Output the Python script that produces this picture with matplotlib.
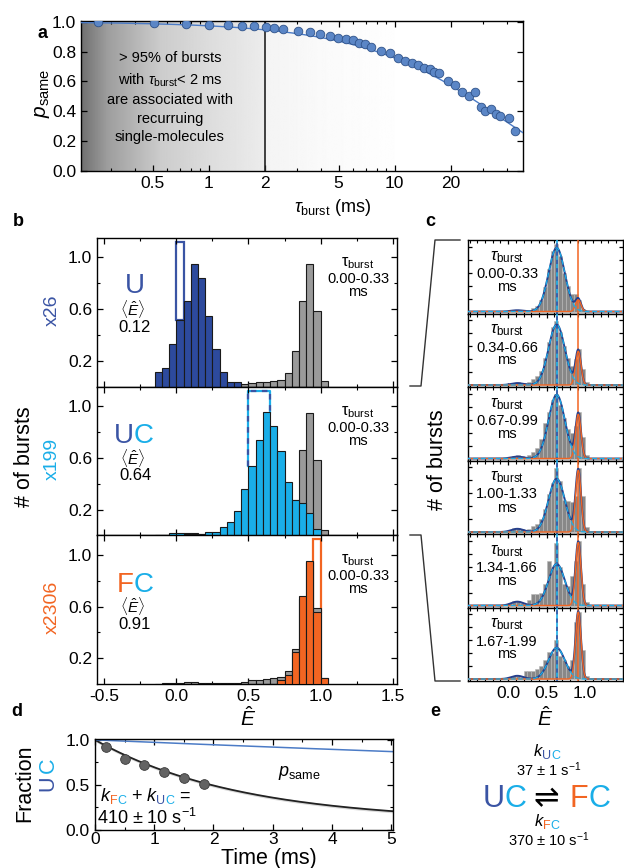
import numpy as np
import matplotlib.pyplot as plt
from matplotlib.ticker import MultipleLocator, FixedLocator, NullFormatter, LogLocator
from matplotlib.lines import Line2D
from matplotlib.patches import Rectangle

plt.rcParams['font.family'] = ['Liberation Sans', 'DejaVu Sans']
plt.rcParams['mathtext.fontset'] = 'custom'
plt.rcParams['mathtext.rm'] = 'Liberation Sans'
plt.rcParams['mathtext.it'] = 'Liberation Sans:italic'
plt.rcParams['mathtext.bf'] = 'Liberation Sans:bold'
plt.rcParams['axes.linewidth'] = 1.0

W, H = 624, 868

# colours
DBLUE = '#3a54a4'
BAR_BLUE = '#2d4a9d'
CYAN = '#1aaee8'
ORANGE = '#f26522'
GREY = '#9a9a9a'
PT_BLUE = '#5b86c6'
LN_BLUE = '#4b7bc6'

# ---------------------------------
# panel a : p_same vs burst duration
TAU_MS = [0.254, 0.506, 0.759, 1.0, 1.265, 1.52, 1.76, 2.03, 2.26, 2.5, 3.03, 3.49,
          3.98, 4.49, 4.96, 5.48, 5.98, 6.46, 6.96, 7.43, 8.45, 9.4, 10.4, 11.4,
          12.4, 13.3, 14.3, 15.4, 16.3, 17.3, 19.4, 21.1, 23.1, 25.1, 27.0, 29.0,
          30.8, 32.8, 34.9, 37.0, 41.0, 44.5]
P_SAME = [0.996, 0.994, 0.987, 0.98, 0.976, 0.973, 0.969, 0.965, 0.96, 0.949, 0.935, 0.928,
          0.915, 0.904, 0.893, 0.884, 0.875, 0.859, 0.848, 0.832, 0.805, 0.792, 0.758, 0.739,
          0.725, 0.712, 0.69, 0.683, 0.665, 0.656, 0.602, 0.579, 0.53, 0.5, 0.526, 0.432,
          0.405, 0.418, 0.385, 0.366, 0.352, 0.267]
P_SAME_TAU0 = 36.0  # ms, single exponential fit

# ---------------------------------
# panel b : E histograms (bin left edges, width 0.05)
E_LEFT = np.round(np.arange(-0.15, 1.001, 0.05), 2)
BIN_W = 0.05
HIST_ALL = [0.0, 0.005, 0.01, 0.012, 0.015, 0.015, 0.012, 0.01, 0.01, 0.01, 0.01, 0.012,
            0.02, 0.03, 0.035, 0.04, 0.045, 0.055, 0.105, 0.275, 0.66, 0.947, 0.585, 0.045]
HIST_U = [0.11, 0.146, 0.33, 0.515, 0.66, 0.947, 0.84, 0.55, 0.29, 0.115, 0.037, 0.037,
          0, 0, 0, 0, 0, 0, 0, 0, 0, 0, 0, 0]
HIST_UC = [0.0, 0.0, 0.015, 0.015, 0.01, 0.01, 0.008, 0.029, 0.024, 0.065, 0.10, 0.19,
           0.356, 0.538, 0.738, 0.953, 0.844, 0.65, 0.413, 0.27, 0.247, 0.174, 0.052, 0.0]
HIST_FC = [0, 0, 0, 0, 0, 0, 0, 0, 0, 0, 0, 0,
           0, 0, 0, 0, 0, 0.03, 0.07, 0.245, 0.68, 0.953, 0.56, 0.047]
SCALES = ['x26', 'x199', 'x2306']
MEAN_E = ['0.12', '0.64', '0.91']

# ---------------------------------
# panel c : UC bursts split by burst duration
C_WINDOWS = ['0.00-0.33', '0.34-0.66', '0.67-0.99', '1.00-1.33', '1.34-1.66', '1.67-1.99']
C_HISTS = [
    [0, 0, 0.005, 0.01, 0.01, 0.01, 0.01, 0.02, 0.02, 0.06, 0.09, 0.17,
     0.37, 0.65, 0.93, 1.04, 0.86, 0.6, 0.4, 0.27, 0.27, 0.17, 0.04, 0],
    [0, 0, 0.01, 0.02, 0.03, 0.04, 0.03, 0.03, 0.05, 0.1, 0.14, 0.22,
     0.42, 0.66, 0.9, 0.99, 0.82, 0.6, 0.42, 0.3, 0.4, 0.56, 0.24, 0.05],
    [0, 0, 0.01, 0.02, 0.04, 0.05, 0.04, 0.03, 0.05, 0.1, 0.16, 0.3,
     0.55, 0.72, 0.9, 1.0, 0.82, 0.62, 0.45, 0.4, 0.5, 0.72, 0.33, 0.05],
    [0, 0, 0.01, 0.03, 0.06, 0.06, 0.04, 0.03, 0.05, 0.1, 0.13, 0.2,
     0.36, 0.59, 0.75, 0.98, 0.78, 0.5, 0.48, 0.46, 0.55, 0.98, 0.55, 0.08],
    [0, 0, 0, 0.04, 0.07, 0.07, 0.04, 0.03, 0.08, 0.17, 0.17, 0.2,
     0.33, 0.68, 0.6, 0.96, 0.6, 0.33, 0.3, 0.45, 0.68, 1.0, 0.33, 0.05],
    [0, 0, 0, 0.03, 0.05, 0.05, 0.03, 0.13, 0.13, 0.13, 0.15, 0.2,
     0.3, 0.42, 0.4, 0.6, 0.36, 0.3, 0.2, 0.3, 0.87, 1.03, 0.45, 0.05],
]
# gaussian fit components (amplitudes per window)
C_AMP_U = [0.02, 0.03, 0.03, 0.05, 0.06, 0.05]
C_AMP_UC = [0.98, 0.93, 0.98, 0.82, 0.64, 0.48]
C_AMP_FC = [0.18, 0.52, 0.68, 0.95, 0.97, 1.03]
FIT_MU = [0.12, 0.63, 0.91]
FIT_SIG = [0.08, 0.105, 0.035]

# ---------------------------------
# panel d : fraction UC vs time
D_TIME_MS = [0.185, 0.506, 0.832, 1.164, 1.5, 1.838]
D_FRAC_UC = [0.926, 0.79, 0.717, 0.647, 0.581, 0.507]
K_UC = 37.0    # s^-1
K_FC = 370.0   # s^-1

fig = plt.figure(figsize=(W / 100, H / 100), dpi=100)


def px_axes(l, t, r, b, **kw):
    return fig.add_axes([l / W, 1 - b / H, (r - l) / W, (b - t) / H], **kw)


def ftext(x, y, s, **kw):
    return fig.text(x / W, 1 - y / H, s, **kw)


def colour_text(x, y, parts, center=False):
    # parts: (text, colour, size, rise_px, gap_px, style)
    r = fig.canvas.get_renderer()
    arts = []
    cx = x
    for s, c, fs, rise, gap, st in parts:
        cx += gap
        t = ftext(cx, y - rise, s, color=c, fontsize=fs, va='baseline', ha='left', style=st)
        cx += t.get_window_extent(r).width
        arts.append(t)
    if center:
        shift = (cx - x) / 2
        for t in arts:
            px, py = t.get_position()
            t.set_position((px - shift / W, py))


def ticks_in(ax):
    ax.tick_params(which='both', direction='in', top=True, right=True, labelsize=12)
    ax.tick_params(which='major', length=4, width=0.9)
    ax.tick_params(which='minor', length=2.5, width=0.8)


# ---------------------------------------------------------------- panel a
bg = px_axes(81, 21, 523, 171)
grad_x = np.linspace(0, 1, 600)
grad_v = np.interp(grad_x, [0, 0.06, 0.18, 0.3, 0.414, 0.416, 0.55, 0.75],
                   [0.44, 0.62, 0.80, 0.87, 0.925, 0.955, 0.98, 1.0])
bg.imshow(grad_v[None, :], extent=[0, 1, 0, 1], aspect='auto', cmap='gray', vmin=0, vmax=1)
bg.axis('off')

ax = px_axes(81, 21, 523, 171)
ax.patch.set_alpha(0)
ax.set_xscale('log')
ax.axvline(2, color='#222222', lw=1.2)
tt = np.logspace(np.log10(0.2), np.log10(50), 300)
ax.plot(tt, np.exp(-tt / P_SAME_TAU0), color=LN_BLUE, lw=1.0, zorder=3)
ax.plot(TAU_MS, P_SAME, 'o', ms=6.2, mfc=PT_BLUE, mec='#2f5289', mew=0.6, zorder=4)
ax.set_xlim(0.206, 49)
ax.set_ylim(0, 1.005)
ax.xaxis.set_major_locator(FixedLocator([0.5, 1, 2, 5, 10, 20]))
ax.set_xticklabels(['0.5', '1', '2', '5', '10', '20'])
ax.xaxis.set_minor_locator(LogLocator(subs=np.arange(2, 10)))
ax.xaxis.set_minor_formatter(NullFormatter())
ax.yaxis.set_major_locator(FixedLocator([0, 0.2, 0.4, 0.6, 0.8, 1.0]))
ax.set_yticklabels(['0.0', '0.2', '0.4', '0.6', '0.8', '1.0'])
ticks_in(ax)
ax.tick_params(labelsize=12.5)

lines_a = ['> 95% of bursts', r'with $\tau_{\mathrm{burst}}$< 2 ms', 'are associated with',
           'recurruing', 'single-molecules']
for s, yb in zip(lines_a, [62, 85, 103.5, 122.5, 141.5]):
    ftext(170, yb, s, ha='center', va='baseline', fontsize=10.5)
ftext(43, 93, r'$p_{\mathrm{same}}$', rotation=90, ha='center', va='center', fontsize=15)
ftext(333, 207, r'$\tau_{\mathrm{burst}}$ (ms)', ha='center', va='center', fontsize=13)

# ---------------------------------------------------------------- panel b
fills = [HIST_U, HIST_UC, HIST_FC]
fcols = [BAR_BLUE, CYAN, ORANGE]
label_cols = [DBLUE, CYAN, ORANGE]
top_b = 238.0
hb = 148.7
for i in range(3):
    axb = px_axes(97, top_b + i * hb, 397, top_b + (i + 1) * hb)
    # open boxes
    if i == 0:
        axb.add_patch(Rectangle((0.0, 0.515), BIN_W, 1.118 - 0.515, fill=False,
                                ec=DBLUE, lw=1.6, zorder=1.5))
    elif i == 1:
        bx = [0.5, 0.5, 0.65, 0.65]
        by = [0.538, 1.12, 1.12, 0.953]
        axb.plot(bx, by, color=CYAN, lw=1.6, zorder=1.5)
        axb.plot(bx, by, color=DBLUE, lw=1.6, ls=(0, (2.5, 2.5)), zorder=1.6)
    else:
        axb.add_patch(Rectangle((0.95, 0.56), BIN_W, 1.12 - 0.56, fill=False,
                                ec=ORANGE, lw=1.6, zorder=1.5))
    axb.bar(E_LEFT, HIST_ALL, width=BIN_W, align='edge', color=GREY,
            edgecolor='#1a1a1a', lw=0.8, zorder=2)
    vals = np.array(fills[i])
    keep = vals > 0
    axb.bar(E_LEFT[keep], vals[keep], width=BIN_W, align='edge', color=fcols[i],
            edgecolor='#1a1a1a', lw=0.8, zorder=3)
    axb.set_xlim(-0.55, 1.53)
    axb.set_ylim(0, 1.15)
    axb.xaxis.set_major_locator(MultipleLocator(0.5))
    axb.xaxis.set_minor_locator(MultipleLocator(0.25))
    axb.yaxis.set_major_locator(FixedLocator([0.2, 0.6, 1.0]))
    axb.yaxis.set_minor_locator(FixedLocator([0.4, 0.8]))
    axb.set_yticklabels(['0.2', '0.6', '1.0'])
    ticks_in(axb)
    axb.tick_params(labelsize=12.5)
    if i < 2:
        axb.set_xticklabels([])
    else:
        axb.set_xticks([-0.5, 0.0, 0.5, 1.0, 1.5])
        axb.set_xticklabels(['-0.5', '0.0', '0.5', '1.0', '1.5'])
    yc = top_b + i * hb
    # state label
    if i == 0:
        colour_text(135, yc + 55, [('U', DBLUE, 20, 0, 0, 'normal')], center=True)
    elif i == 1:
        colour_text(134, yc + 56, [('U', DBLUE, 20, 0, 0, 'normal'),
                                   ('C', CYAN, 20, 0, 0, 'normal')], center=True)
    else:
        colour_text(135, yc + 57, [('F', ORANGE, 20, 0, 0, 'normal'),
                                   ('C', CYAN, 20, 0, 0, 'normal')], center=True)
    ftext(133, yc + 71, r'$\langle\hat{E}\rangle$', ha='center', va='center', fontsize=11)
    ftext(135, yc + 89, MEAN_E[i], ha='center', va='center', fontsize=12)
    ftext(52, yc + 72, SCALES[i], rotation=90, ha='center', va='center',
          fontsize=14, color=label_cols[i])
    ftext(358, yc + 25, r'$\mathrm{\tau}_{\mathrm{burst}}$', ha='center', va='center', fontsize=11.5)
    ftext(358, yc + 41, '0.00-0.33', ha='center', va='center', fontsize=10.5)
    ftext(358, yc + 54, 'ms', ha='center', va='center', fontsize=10.5)

ftext(25, 457, '# of bursts', rotation=90, ha='center', va='center', fontsize=15.5)
ftext(248, 718, r'$\hat{E}$', ha='center', va='center', fontsize=15)

# ---------------------------------------------------------------- panel c
xs = np.linspace(-0.55, 1.55, 600)
top_c = 240.0
hc = 73.5
for i in range(6):
    axc = px_axes(468, top_c + i * hc, 623, top_c + (i + 1) * hc)
    axc.bar(E_LEFT, C_HISTS[i], width=BIN_W, align='edge', color='#888888',
            edgecolor='#b8b8b8', lw=0.4, zorder=2)
    g_u = C_AMP_U[i] * np.exp(-0.5 * ((xs - FIT_MU[0]) / FIT_SIG[0]) ** 2)
    g_uc = C_AMP_UC[i] * np.exp(-0.5 * ((xs - FIT_MU[1]) / FIT_SIG[1]) ** 2)
    g_fc = C_AMP_FC[i] * np.exp(-0.5 * ((xs - FIT_MU[2]) / FIT_SIG[2]) ** 2)
    axc.axvline(0.64, color=CYAN, lw=1.2, zorder=3)
    axc.axvline(0.64, color=DBLUE, lw=1.2, ls=(0, (2.5, 2.5)), zorder=3.1)
    axc.axvline(0.91, color=ORANGE, lw=1.1, zorder=3)
    axc.plot(xs, g_u + g_uc + g_fc, color='#263f8c', lw=1.4, zorder=4)
    axc.plot(xs, g_uc, color=CYAN, lw=0.9, ls=(0, (4, 2)), zorder=4.2)
    axc.plot(xs, g_fc, color=ORANGE, lw=1.0, zorder=4.1)
    axc.set_xlim(-0.52, 1.49)
    axc.set_ylim(-0.03, 1.1)
    axc.xaxis.set_major_locator(FixedLocator([0.0, 0.5, 1.0]))
    axc.xaxis.set_minor_locator(MultipleLocator(0.1))
    axc.yaxis.set_major_locator(FixedLocator([0.2, 0.4, 0.6, 0.8, 1.0]))
    axc.set_yticklabels([])
    ticks_in(axc)
    axc.tick_params(which='major', length=3)
    axc.tick_params(which='minor', length=2)
    axc.tick_params(labelsize=12.5)
    if i < 5:
        axc.set_xticklabels([])
    else:
        axc.set_xticklabels(['0.0', '0.5', '1.0'])
    yc = top_c + i * hc
    ftext(507, yc + 17, r'$\tau_{\mathrm{burst}}$', ha='center', va='center', fontsize=12)
    ftext(507, yc + 34, C_WINDOWS[i], ha='center', va='center', fontsize=10.5)
    ftext(507, yc + 47, 'ms', ha='center', va='center', fontsize=10.5)

ftext(438, 460, '# of bursts', rotation=90, ha='center', va='center', fontsize=15.5)
ftext(545, 718, r'$\hat{E}$', ha='center', va='center', fontsize=15)

# bracket lines from panel b (UC) to panel c
for pts in ([(410, 386), (421, 386), (435, 240), (460, 240)],
            [(410, 535), (421, 535), (435, 681), (460, 681)]):
    px = [p[0] / W for p in pts]
    py = [1 - p[1] / H for p in pts]
    fig.add_artist(Line2D(px, py, color='#333333', lw=1.0))

# ---------------------------------------------------------------- panel d
axd = px_axes(95, 739, 393, 830)
td = np.linspace(0, 5.1, 300)
k_sum = (K_UC + K_FC) * 1e-3
f_eq = K_UC / (K_UC + K_FC)
fd = f_eq + (1 - f_eq) * np.exp(-k_sum * td)
axd.fill_between(td, fd - 0.018, fd + 0.012, color='#d9d9d9', lw=0, zorder=1)
axd.plot(td, fd, color='#222222', lw=1.3, zorder=2)
axd.plot(td, np.exp(-td / P_SAME_TAU0), color=LN_BLUE, lw=1.1, zorder=2)
axd.plot(D_TIME_MS, D_FRAC_UC, 'o', ms=7, mfc='#636363', mec='#3a3a3a', mew=0.6, zorder=3)
axd.set_xlim(0, 5.03)
axd.set_ylim(0, 1.01)
axd.xaxis.set_major_locator(MultipleLocator(1))
axd.xaxis.set_minor_locator(MultipleLocator(0.5))
axd.yaxis.set_major_locator(FixedLocator([0, 0.5, 1.0]))
axd.yaxis.set_minor_locator(FixedLocator([0.25, 0.75]))
axd.set_yticklabels(['0.0', '0.5', '1.0'])
ticks_in(axd)
axd.tick_params(labelsize=12.5)
axd.tick_params(axis='x', pad=1.5)
axd.tick_params(axis='y', pad=4)
axd.text(3.45, 0.63, r'$p_{\mathrm{same}}$', fontsize=13, ha='center', va='center')
colour_text(101, 801, [('k', 'black', 13, 0, 0, 'italic'),
                       ('F', ORANGE, 9, -3, 0, 'normal'),
                       ('C', CYAN, 9, -3, 0, 'normal'),
                       ('+', 'black', 13, 0, 5, 'normal'),
                       ('k', 'black', 13, 0, 5, 'italic'),
                       ('U', DBLUE, 9, -3, 0, 'normal'),
                       ('C', CYAN, 9, -3, 0, 'normal'),
                       ('=', 'black', 13, 0, 5, 'normal')])
ftext(97, 824, r'410 $\pm$ 10 s$^{\mathregular{-1}}$', fontsize=13, va='baseline', ha='left')
ftext(25, 783, 'Fraction', rotation=90, ha='center', va='center', fontsize=15.5)
ftext(48, 783, 'U', rotation=90, ha='center', va='center', fontsize=15.5, color=DBLUE)
ftext(48, 765, 'C', rotation=90, ha='center', va='center', fontsize=15.5, color=CYAN)
ftext(269, 864, 'Time (ms)', ha='center', va='baseline', fontsize=15.5)

# ---------------------------------------------------------------- panel e
colour_text(547, 756, [('k', 'black', 12, 0, 0, 'italic'),
                       ('U', DBLUE, 9, -3, 0, 'normal'),
                       ('C', CYAN, 9, -3, 0, 'normal')], center=True)
ftext(549, 776, r'37 $\pm$ 1 s$^{\mathregular{-1}}$', fontsize=10.5, ha='center', va='baseline')
colour_text(483, 807, [('U', DBLUE, 22, 0, 0, 'normal'), ('C', CYAN, 22, 0, 0, 'normal')])
ftext(546, 799, '\u21cc', fontsize=22, ha='center', va='center', family='DejaVu Sans')
colour_text(570, 807, [('F', ORANGE, 22, 0, 0, 'normal'), ('C', CYAN, 22, 0, 0, 'normal')])
colour_text(547, 826, [('k', 'black', 12, 0, 0, 'italic'),
                       ('F', ORANGE, 9, -3, 0, 'normal'),
                       ('C', CYAN, 9, -3, 0, 'normal')], center=True)
ftext(549, 846, r'370 $\pm$ 10 s$^{\mathregular{-1}}$', fontsize=10.5, ha='center', va='baseline')

# panel letters
for s, x, y in [('a', 42, 33), ('b', 18, 221), ('c', 430, 221), ('d', 17, 712), ('e', 435, 712)]:
    ftext(x, y, s, fontsize=13, fontweight='bold', ha='center', va='center')

fig.savefig('out.png', dpi=100)
